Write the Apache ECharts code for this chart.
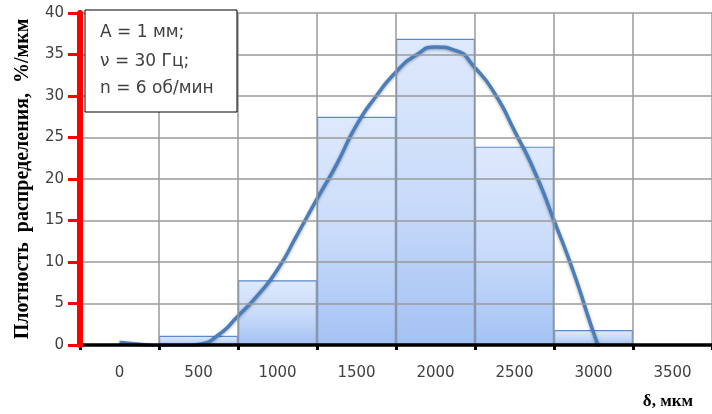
<!DOCTYPE html>
<html>
<head>
<meta charset="utf-8">
<script src="https://cdn.jsdelivr.net/npm/echarts@6/dist/echarts.min.js"></script>
<style>
  html, body { margin: 0; padding: 0; background: #fff; }
  #chart { width: 712px; height: 414px; }
</style>
</head>
<body>
<div id="chart"></div>
<script>
// категории (центры интервалов), мкм
var categories = ['0', '500', '1000', '1500', '2000', '2500', '3000', '3500'];
// гистограмма, %/мкм ('-' = пустой интервал)
var barValues = ['-', 1.1, 7.8, 27.5, 36.9, 23.9, 1.8, '-'];
// аппроксимирующая кривая: положение (мкм) и плотность
var curveX = [0, 125, 250, 375, 500, 625, 750, 875, 1000, 1125, 1250, 1375, 1500, 1625, 1750, 1875, 2000, 2125, 2250, 2375, 2500, 2625, 2750, 2875, 3000, 3125];
var curveY = [0.3, 0.1, -0.15, -0.2, 0.05, 1.2, 3.5, 6.0, 9.1, 13.3, 17.6, 21.8, 26.5, 30.0, 32.9, 34.9, 35.9, 35.5, 33.4, 30.3, 25.8, 21.0, 15.0, 8.7, 1.5, -5];
var yTicks = [0, 40, 5];

var curve = [];
for (var i = 0; i < curveX.length; i++) {
    curve.push([curveX[i], curveY[i]]);
}

var chart = echarts.init(document.getElementById('chart'));

var option = {
    animation: false,
    grid: { left: 80, right: 0, top: 13, bottom: 69 },
    xAxis: [
        {
            type: 'category',
            data: categories,
            boundaryGap: true,
            z: 6,
            axisLine: { show: true, lineStyle: { color: '#000', width: 3.5 } },
            axisTick: { show: true, length: 5, lineStyle: { color: '#000', width: 3 } },
            axisLabel: { color: '#404040', fontSize: 15, fontFamily: 'DejaVu Sans', margin: 21 },
            splitLine: { show: true, lineStyle: { color: '#9a9a9a', width: 1.5 } }
        },
        {
            // шкала для кривой: края интервалов -250 ... 3750 мкм
            type: 'value',
            min: -250,
            max: 3750,
            show: false
        }
    ],
    yAxis: {
        type: 'value',
        position: 'left',
        min: yTicks[0],
        max: yTicks[1],
        interval: yTicks[2],
        z: 7,
        axisLine: { show: true, onZero: false, lineStyle: { color: '#ff0000', width: 6 } },
        axisTick: { show: true, inside: false, length: 12, lineStyle: { color: '#ff0000', width: 3 } },
        axisLabel: { color: '#404040', fontSize: 15, fontFamily: 'DejaVu Sans', margin: 16 },
        splitLine: { show: true, showMinLine: false, lineStyle: { color: '#9a9a9a', width: 1.5 } }
    },
    series: [
        {
            type: 'bar',
            data: barValues,
            barWidth: '100%',
            barGap: '0%',
            itemStyle: {
                borderColor: '#5b8ac6',
                borderWidth: 1.2,
                color: new echarts.graphic.LinearGradient(0, 0, 0, 1, [
                    { offset: 0, color: '#dee9fc' },
                    { offset: 0.5, color: '#cadcfa' },
                    { offset: 1, color: '#a4c2f4' }
                ])
            },
            z: 2
        },
        {
            type: 'line',
            xAxisIndex: 1,
            data: curve,
            smooth: 0.6,
            symbol: 'none',
            clip: true,
            lineStyle: {
                color: '#4a7ebb',
                width: 3.5,
                shadowBlur: 3,
                shadowColor: 'rgba(0,0,0,0.35)',
                shadowOffsetY: 1
            },
            z: 3
        }
    ],
    graphic: [
        {
            type: 'rect',
            shape: { x: 85, y: 10, width: 152, height: 102 },
            style: { fill: '#fff', stroke: '#000', lineWidth: 1 },
            z: 10
        },
        {
            type: 'text',
            x: 100, y: 33,
            style: { text: 'A = 1 мм;', font: '17px "DejaVu Sans"', fill: '#404040', textVerticalAlign: 'middle' },
            z: 11
        },
        {
            type: 'text',
            x: 100, y: 62,
            style: { text: 'ν = 30 Гц;', font: '17px "DejaVu Sans"', fill: '#404040', textVerticalAlign: 'middle' },
            z: 11
        },
        {
            type: 'text',
            x: 100, y: 89,
            style: { text: 'n = 6 об/мин', font: '17px "DejaVu Sans"', fill: '#404040', textVerticalAlign: 'middle' },
            z: 11
        },
        {
            type: 'text',
            x: 23, y: 179,
            rotation: Math.PI / 2,
            style: {
                text: 'Плотность  распределения,  %/мкм',
                font: 'bold 20px "Liberation Serif"',
                fill: '#000',
                textAlign: 'center',
                textVerticalAlign: 'middle'
            },
            z: 11
        },
        {
            type: 'text',
            x: 668, y: 402,
            style: { text: 'δ, мкм', font: 'bold 17px "Liberation Serif"', fill: '#000', textAlign: 'center', textVerticalAlign: 'middle' },
            z: 11
        }
    ]
};

chart.setOption(option);
</script>
</body>
</html>
